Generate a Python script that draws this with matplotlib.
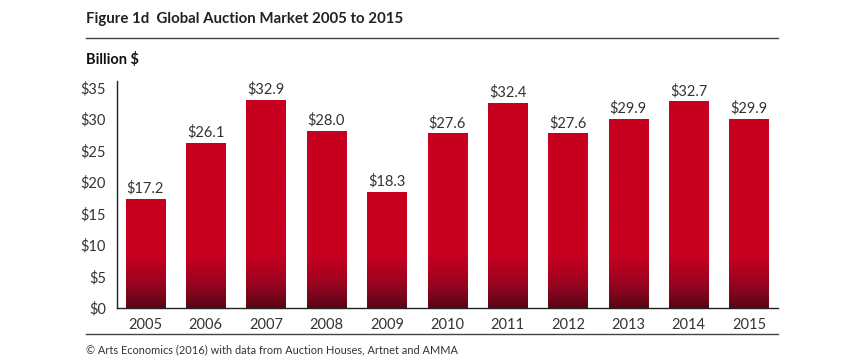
import numpy as np
import matplotlib.pyplot as plt
from matplotlib.colors import LinearSegmentedColormap

years = ['2005', '2006', '2007', '2008', '2009', '2010',
         '2011', '2012', '2013', '2014', '2015']
values = [17.2, 26.1, 32.9, 28.0, 18.3, 27.6, 32.4, 27.6, 29.9, 32.7, 29.9]
yticks = [0, 5, 10, 15, 20, 25, 30, 35]

plt.rcParams['font.family'] = ['Lato', 'DejaVu Sans']

fig = plt.figure(figsize=(8.64, 3.6), dpi=100)
ax = fig.add_axes([117 / 864, 1 - 308 / 360, 661 / 864, 227 / 360])

# vertical gradient: dark maroon at the base fading to red around $8
cmap = LinearSegmentedColormap.from_list(
    'bar', [(0.0, '#5a0616'), (0.45, '#9a0420'), (1.0, '#c8001f')])
fade = 8.5
width = 0.65
x = np.arange(len(years))
bars = ax.bar(x, values, width=width, color='none', edgecolor='none')
for xi, v in zip(x, values):
    vals = np.linspace(0, v, 300)
    grad = np.clip(vals / fade, 0, 1)[::-1].reshape(-1, 1)
    ax.imshow(grad, cmap=cmap, vmin=0, vmax=1, aspect='auto',
              extent=(xi - width / 2, xi + width / 2, 0, v),
              interpolation='bilinear', zorder=2)
    ax.text(xi, v + 0.6, f'${v:.1f}', ha='center', va='bottom',
            fontsize=10.5, color='#333333')

ax.set_xlim(-0.47, 10.48)
ax.set_ylim(0, 36)
ax.set_xticks(x)
ax.set_xticklabels(years, fontsize=10.5, color='#333333')
ax.set_yticks(yticks)
ax.set_yticklabels([f'${t}' for t in yticks], fontsize=10.5, color='#333333')
ax.tick_params(length=0, pad=7)
ax.tick_params(axis='y', pad=8)
for s in ['top', 'right']:
    ax.spines[s].set_visible(False)
for s in ['left', 'bottom']:
    ax.spines[s].set_color('#222222')
    ax.spines[s].set_linewidth(1.0)

fig.text(86 / 864, 1 - 19 / 360, 'Figure 1d  Global Auction Market 2005 to 2015',
         fontsize=10.8, fontweight='bold', color='#222222', va='center')
fig.add_artist(plt.Line2D([86 / 864, 778 / 864], [1 - 38 / 360, 1 - 38 / 360],
                          color='#444444', lw=1.0))
fig.text(86 / 864, 1 - 59 / 360, 'Billion $', fontsize=10.5,
         fontweight='bold', color='#111111', va='center')
fig.add_artist(plt.Line2D([86 / 864, 778 / 864], [1 - 334 / 360, 1 - 334 / 360],
                          color='#444444', lw=1.0))
fig.text(86 / 864, 1 - 350 / 360,
         '© Arts Economics (2016) with data from Auction Houses, Artnet and AMMA',
         fontsize=7.9, color='#333333', va='center')

fig.savefig('out.png', dpi=100)
